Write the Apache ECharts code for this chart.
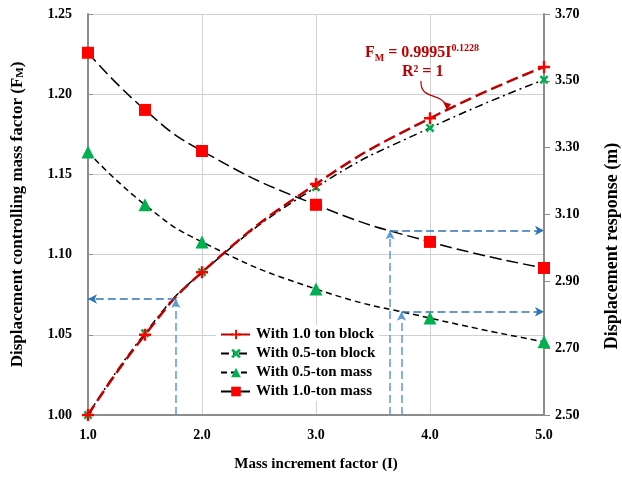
<!DOCTYPE html>
<html>
<head>
<meta charset="utf-8">
<script src="https://cdn.jsdelivr.net/npm/echarts@6/dist/echarts.min.js"></script>
<style>
  html, body { margin: 0; padding: 0; background: #fff; }
  #chart { width: 622px; height: 487px; }
</style>
</head>
<body>
<div id="chart"></div>
<script>
// mass increment factor I
const massFactor = [1.0, 1.5, 2.0, 3.0, 4.0, 5.0]

// left axis: F_M
const blockOneTon = [1.000, 1.050, 1.089, 1.144, 1.185, 1.217]
const blockHalfTon = [1.000, 1.051, 1.089, 1.142, 1.179, 1.209]

// right axis: displacement response (m)
const massHalfTon = [3.287, 3.129, 3.018, 2.877, 2.790, 2.719]
const massOneTon = [3.584, 3.413, 3.290, 3.129, 3.018, 2.940]

// blue guide arrows: [I, value]
const guideLeft = [1.77, 1.0723]
const guideRightA = [3.65, 3.052]
const guideRightB = [3.75, 2.809]

const seriesNames = ['With 1.0 ton block', 'With 0.5-ton block', 'With 0.5-ton mass', 'With 1.0-ton mass']

const FONT = '"Liberation Serif", "Times New Roman", serif'
const plusPath = 'path://M4,0H6V4H10V6H6V10H4V6H0V4H4Z'
const crossPath = 'path://M0,2L2,0L5,3L8,0L10,2L7,5L10,8L8,10L5,7L2,10L0,8L3,5Z'

const pairs = ys => massFactor.map((x, i) => [x, ys[i]])

const blueDark = '#2E75B6'
const blueLight = '#5B9BD5'

function guide(pt, yMin, xEnd, hColor) {
  return [
    [{ coord: [pt[0], yMin], lineStyle: { color: blueLight } }, { coord: [pt[0], pt[1]] }],
    [{ coord: [pt[0], pt[1]], lineStyle: { color: hColor } }, { coord: [xEnd, pt[1]] }],
  ]
}

const chart = echarts.init(document.getElementById('chart'))

const axisLine = { show: true, lineStyle: { color: '#8c8c8c', width: 2 } }
const labelStyle = { color: '#000', fontFamily: FONT, fontWeight: 'bold', fontSize: 14 }
const nameStyle = { color: '#000', fontFamily: FONT, fontWeight: 'bold', fontSize: 15 }
const yNameStyle = { ...nameStyle, fontSize: 17 }

chart.setOption({
  animation: false,
  grid: { left: 88, right: 78, top: 14, bottom: 72, outerBoundsMode: 'none', containLabel: false },
  legend: {
    data: seriesNames,
    orient: 'vertical',
    left: 216,
    top: 325,
    itemGap: 4,
    itemWidth: 30,
    itemHeight: 12,
    backgroundColor: '#fff',
    padding: [2, 4],
    textStyle: { color: '#000', fontFamily: FONT, fontWeight: 'bold', fontSize: 15 },
  },
  xAxis: {
    type: 'value',
    min: 1,
    max: 5,
    interval: 1,
    name: 'Mass increment factor (I)',
    nameLocation: 'middle',
    nameGap: 42,
    nameTextStyle: nameStyle,
    axisLine,
    axisTick: { show: false },
    axisLabel: { ...labelStyle, margin: 13, formatter: v => v.toFixed(1) },
    splitLine: { show: true, lineStyle: { color: '#d0d0d0' } },
  },
  yAxis: [
    {
      type: 'value',
      min: 1,
      max: 1.25,
      interval: 0.05,
      name: '{n|Displacement controlling mass factor (F}{s|M}{n|)}',
      nameLocation: 'middle',
      nameGap: 62,
      nameTextStyle: {
        ...yNameStyle,
        rich: {
          n: { ...yNameStyle, lineHeight: 22, verticalAlign: 'bottom' },
          s: { ...yNameStyle, fontSize: 11, lineHeight: 22, verticalAlign: 'bottom' },
        },
      },
      axisLine,
      axisTick: { show: true, inside: true, length: 5, lineStyle: { color: '#8c8c8c' } },
      axisLabel: { ...labelStyle, margin: 16, formatter: v => v.toFixed(2) },
      splitLine: { show: true, lineStyle: { color: '#d0d0d0' } },
    },
    {
      type: 'value',
      min: 2.5,
      max: 3.7,
      interval: 0.2,
      axisLine,
      axisTick: { show: true, length: 6, lineStyle: { color: '#8c8c8c' } },
      axisLabel: { ...labelStyle, margin: 11, formatter: v => v.toFixed(2) },
      splitLine: { show: false },
    },
  ],
  series: [
    {
      name: seriesNames[0],
      type: 'line',
      yAxisIndex: 0,
      data: pairs(blockOneTon),
      smooth: true,
      symbol: plusPath,
      symbolSize: 12,
      itemStyle: { color: '#ff0000' },
      lineStyle: { color: '#c00000', width: 2.5, type: [12, 5] },
      z: 4,
      markLine: {
        silent: true,
        symbol: ['none', 'arrow'],
        symbolSize: [7, 9],
        label: { show: false },
        lineStyle: { type: [8, 4], width: 1.5 },
        data: guide(guideLeft, 1.0, 1.0, blueDark),
      },
    },
    {
      name: seriesNames[1],
      type: 'line',
      yAxisIndex: 0,
      data: pairs(blockHalfTon),
      smooth: true,
      symbol: crossPath,
      symbolSize: 9,
      itemStyle: { color: '#00b050' },
      lineStyle: { color: '#000', width: 1.5, type: [8, 4, 2, 4] },
      z: 3,
    },
    {
      name: seriesNames[2],
      type: 'line',
      yAxisIndex: 1,
      data: pairs(massHalfTon),
      smooth: true,
      symbol: 'triangle',
      symbolSize: 13,
      itemStyle: { color: '#00b050' },
      lineStyle: { color: '#000', width: 1.5, type: [6, 4] },
      z: 3,
    },
    {
      name: seriesNames[3],
      type: 'line',
      yAxisIndex: 1,
      data: pairs(massOneTon),
      smooth: true,
      symbol: 'rect',
      symbolSize: 12,
      itemStyle: { color: '#ff0000' },
      lineStyle: { color: '#000', width: 1.5, type: [12, 5] },
      z: 3,
      markLine: {
        silent: true,
        symbol: ['none', 'arrow'],
        symbolSize: [7, 9],
        label: { show: false },
        lineStyle: { type: [8, 4], width: 1.5 },
        data: [
          ...guide(guideRightA, 2.5, 5.0, blueDark),
          ...guide(guideRightB, 2.5, 5.0, blueDark),
        ],
      },
    },
  ],
  graphic: [
    {
      // right axis title sits a bit below the plot centre in the original
      type: 'text',
      x: 612,
      y: 246,
      rotation: Math.PI / 2,
      style: {
        text: 'Displacement response (m)',
        fontFamily: FONT,
        fontWeight: 'bold',
        fontSize: 18,
        fill: '#000',
        align: 'center',
        verticalAlign: 'middle',
      },
    },
    {
      type: 'text',
      left: 365,
      top: 43,
      z: 10,
      style: {
        text: '{n|F}{s|M}{n| = 0.9995I}{p|0.1228}',
        rich: {
          n: { fontFamily: FONT, fontWeight: 'bold', fontSize: 16, fill: '#c00000', lineHeight: 20, verticalAlign: 'middle' },
          s: { fontFamily: FONT, fontWeight: 'bold', fontSize: 10, fill: '#c00000', lineHeight: 20, verticalAlign: 'bottom' },
          p: { fontFamily: FONT, fontWeight: 'bold', fontSize: 10, fill: '#c00000', lineHeight: 20, verticalAlign: 'top' },
        },
      },
    },
    {
      type: 'text',
      left: 402,
      top: 64,
      z: 10,
      style: {
        text: 'R² = 1',
        fontFamily: FONT,
        fontWeight: 'bold',
        fontSize: 16,
        fill: '#c00000',
      },
    },
    {
      type: 'bezierCurve',
      z: 10,
      shape: { x1: 421, y1: 81, x2: 447, y2: 106, cpx1: 420, cpy1: 100, cpx2: 440, cpy2: 92 },
      style: { stroke: '#c00000', lineWidth: 1.2, fill: null },
    },
    {
      type: 'polygon',
      z: 10,
      shape: { points: [[443, 102], [451, 104], [447, 110]] },
      style: { fill: '#c00000' },
    },
  ],
})
</script>
</body>
</html>
